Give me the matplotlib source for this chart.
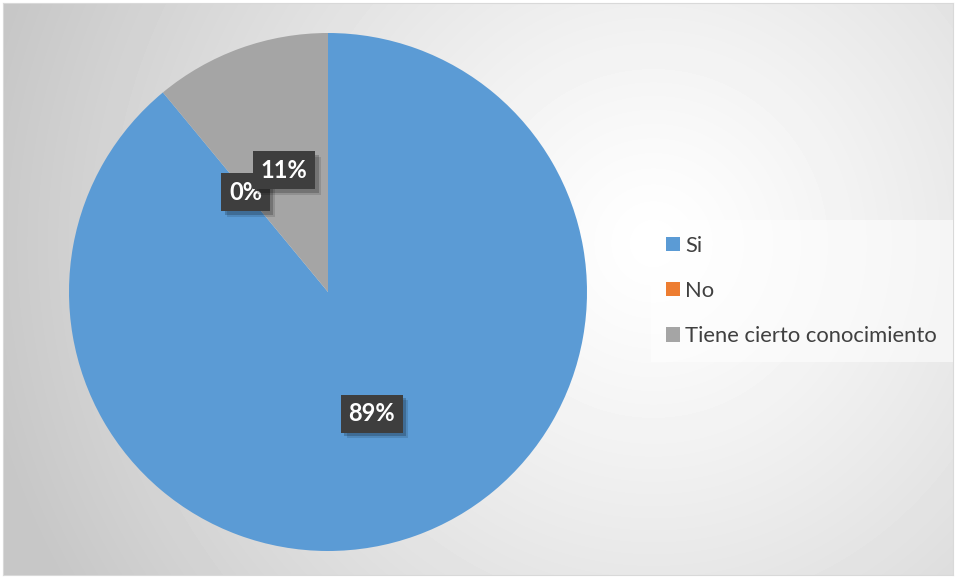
import numpy as np
import matplotlib.pyplot as plt
import matplotlib.patheffects as pe

plt.rcParams['font.family'] = ['Lato', 'DejaVu Sans']

# datos de la encuesta
categorias = ['Si', 'No', 'Tiene cierto conocimiento']
porcentajes = [89, 0, 11]
colores = ['#5B9BD5', '#ED7D31', '#A5A5A5']

W, H = 956, 578
fig = plt.figure(figsize=(W / 100, H / 100), dpi=100)
fig.patch.set_facecolor('white')

# fondo con degradado radial
bg = fig.add_axes([3 / W, 3 / H, (W - 6) / W, (H - 6) / H])
yy, xx = np.mgrid[0:H - 6, 0:W - 6]
d = np.hypot(xx - 650, yy - 240) / 680
vals = 1 - 0.22 * np.clip(d, 0, 1) ** 1.2
bg.imshow(vals, cmap='gray', vmin=0, vmax=1, aspect='auto', interpolation='bilinear')
bg.set_xticks([])
bg.set_yticks([])
for s in bg.spines.values():
    s.set_color('#d9d9d9')
    s.set_linewidth(0.8)

# pastel
cx, cy, r = 328, 292, 259
ax = fig.add_axes([(cx - r) / W, (H - cy - r) / H, 2 * r / W, 2 * r / H])
ax.set_facecolor('none')
wedges, textos, auto = ax.pie(
    porcentajes, colors=colores, startangle=90, counterclock=False,
    autopct='%1.0f%%', pctdistance=0.5, radius=1,
    wedgeprops=dict(linewidth=0),
    textprops=dict(color='white', fontsize=17, fontweight='bold'))
ax.set_xlim(-1, 1)
ax.set_ylim(-1, 1)

# etiquetas en caja oscura con sombra
for t in auto:
    t.set_bbox(dict(boxstyle='square,pad=0.32', facecolor='#3e3e3e',
                    edgecolor='none', linewidth=0))
    t.get_bbox_patch().set_path_effects([
        pe.SimplePatchShadow(offset=(4, -4), shadow_rgbFace='#000000', alpha=0.12),
        pe.SimplePatchShadow(offset=(2.5, -2.5), shadow_rgbFace='#000000', alpha=0.2),
        pe.Normal()])

leg = fig.legend(wedges, categorias, loc='center left',
                 bbox_to_anchor=(651 / W, 1 - 291 / H), frameon=True,
                 fontsize=15.8, labelspacing=1.15, handlelength=0.62,
                 handleheight=0.62, handletextpad=0.25, borderpad=0.7,
                 borderaxespad=0, labelcolor='#404040')
leg.get_frame().set_facecolor('white')
leg.get_frame().set_alpha(0.55)
leg.get_frame().set_edgecolor('none')
leg.get_frame().set_boxstyle('square,pad=0')

fig.savefig('out.png', dpi=100)
